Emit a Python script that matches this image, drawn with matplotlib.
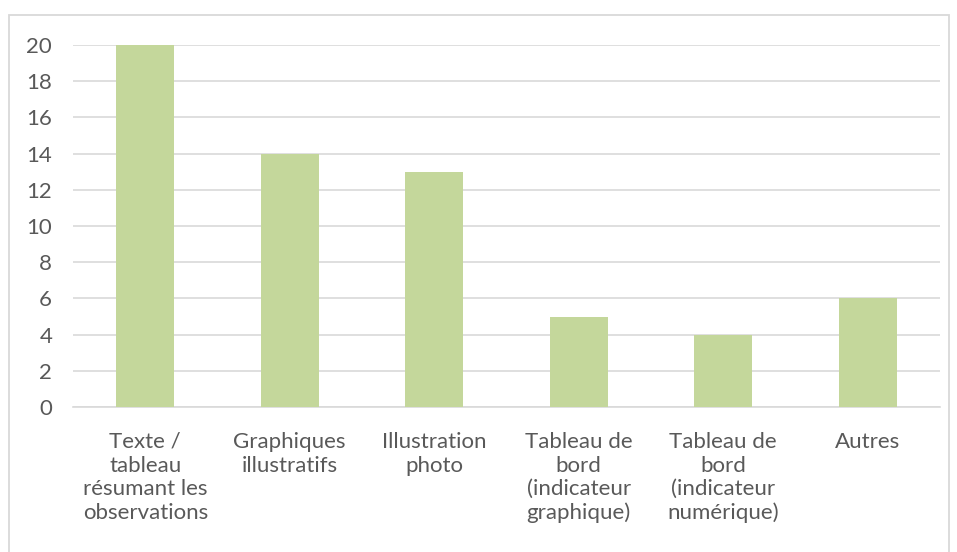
import matplotlib
matplotlib.use("Agg")
import matplotlib.pyplot as plt
from matplotlib.patches import Rectangle

categories = [
    "Texte /\ntableau\nrésumant les\nobservations",
    "Graphiques\nillustratifs",
    "Illustration\nphoto",
    "Tableau de\nbord\n(indicateur\ngraphique)",
    "Tableau de\nbord\n(indicateur\nnumérique)",
    "Autres",
]
values = [20, 14, 13, 5, 4, 6]
yticks = list(range(0, 21, 2))

plt.rcParams["font.family"] = ["Lato", "DejaVu Sans"]
txt = "#595959"
grid = "#D9D9D9"

fig = plt.figure(figsize=(9.57, 5.52), dpi=100)
ax = fig.add_axes([73 / 957, 1 - 407 / 552, 867 / 957, 362 / 552])

# cadre du graphique (style Excel)
fig.patches.append(Rectangle((9 / 957, -0.05), 940 / 957, 1.05 - 15 / 552,
                             transform=fig.transFigure, fill=False,
                             edgecolor=grid, lw=1.3))

x = range(len(categories))
ax.bar(x, values, width=0.4, color="#C4D79B", zorder=3)
ax.set_xlim(-0.5, len(categories) - 0.5)
ax.set_ylim(0, 20)
ax.set_yticks(yticks)
ax.set_yticklabels([str(t) for t in yticks], color=txt, fontsize=16)
ax.set_xticks(list(x))
ax.set_xticklabels(categories, color=txt, fontsize=16, linespacing=1.22, va="top")
ax.tick_params(axis="both", length=0)
ax.tick_params(axis="y", pad=15)
ax.tick_params(axis="x", pad=18)
ax.grid(axis="y", color=grid, lw=1.2, zorder=0)
for s in ["top", "right", "left"]:
    ax.spines[s].set_visible(False)
ax.spines["bottom"].set_color(grid)
ax.spines["bottom"].set_linewidth(1.2)

fig.savefig("out.png", dpi=100)
